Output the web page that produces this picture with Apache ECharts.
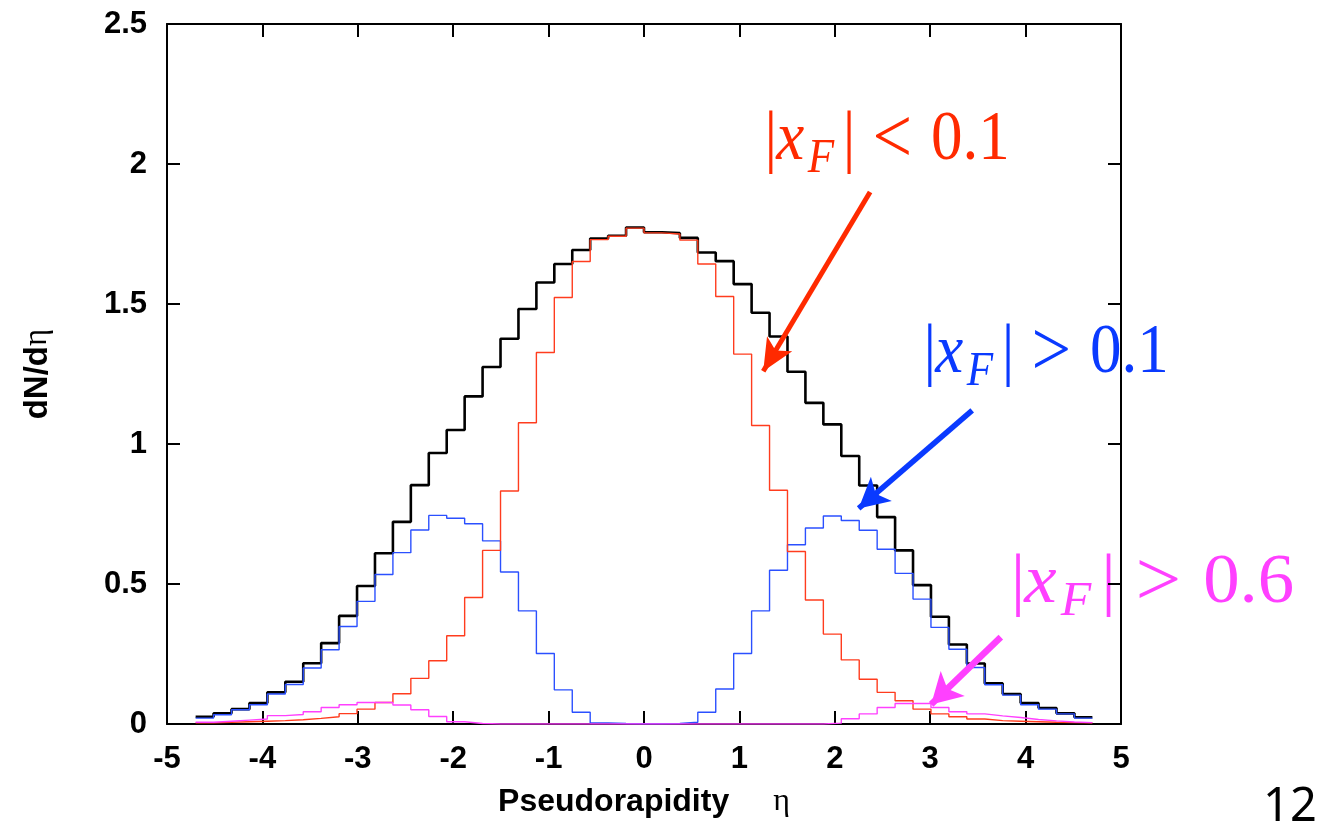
<!DOCTYPE html>
<html>
<head>
<meta charset="utf-8">
<script src="https://cdn.jsdelivr.net/npm/echarts@6/dist/echarts.min.js"></script>
<style>
  html, body { margin: 0; padding: 0; background: #fff; }
  #chart { width: 1320px; height: 825px; }
</style>
</head>
<body>
<div id="chart"></div>
<script>
// histogram binning: 50 bins from -4.7 to 4.7
const binLo = -4.7
const binWidth = 0.188

// all particles
const totalVals = [
  0.026, 0.038, 0.053, 0.075, 0.113, 0.151, 0.217, 0.289, 0.386, 0.493,
  0.610, 0.722, 0.853, 0.968, 1.050, 1.170, 1.275, 1.376, 1.482, 1.577,
  1.643, 1.693, 1.734, 1.744, 1.773, 1.756, 1.753, 1.736, 1.684, 1.653,
  1.571, 1.469, 1.384, 1.258, 1.147, 1.070, 0.957, 0.852, 0.739, 0.620,
  0.496, 0.383, 0.284, 0.216, 0.145, 0.107, 0.075, 0.057, 0.038, 0.024
]
// |xF| < 0.1
const lowXF = [
  0.004, 0.006, 0.008, 0.010, 0.012, 0.015, 0.020, 0.026, 0.037, 0.053,
  0.077, 0.108, 0.163, 0.226, 0.315, 0.452, 0.620, 0.832, 1.076, 1.327,
  1.523, 1.652, 1.730, 1.742, 1.771, 1.754, 1.750, 1.728, 1.643, 1.527,
  1.321, 1.066, 0.835, 0.616, 0.443, 0.321, 0.229, 0.160, 0.113, 0.083,
  0.053, 0.036, 0.026, 0.018, 0.012, 0.010, 0.008, 0.006, 0.005, 0.004
]
// |xF| > 0.1
const highXF = [
  0.021, 0.033, 0.051, 0.069, 0.107, 0.141, 0.200, 0.265, 0.348, 0.438,
  0.534, 0.612, 0.693, 0.745, 0.735, 0.715, 0.654, 0.543, 0.404, 0.252,
  0.122, 0.042, 0.004, 0.002, 0.001, 0.001, 0.002, 0.006, 0.042, 0.125,
  0.252, 0.404, 0.549, 0.640, 0.700, 0.743, 0.727, 0.692, 0.624, 0.538,
  0.446, 0.345, 0.267, 0.202, 0.140, 0.103, 0.069, 0.053, 0.036, 0.021
]
// |xF| > 0.6
const veryHighXF = [
  0.006, 0.010, 0.014, 0.018, 0.030, 0.034, 0.044, 0.059, 0.069, 0.077,
  0.077, 0.068, 0.051, 0.027, 0.008, 0.002, 0.000, 0.000, 0.000, 0.000,
  0.000, 0.000, 0.000, 0.000, 0.000, 0.000, 0.000, 0.000, 0.000, 0.000,
  0.000, 0.000, 0.000, 0.000, 0.000, 0.003, 0.019, 0.036, 0.059, 0.073,
  0.073, 0.059, 0.044, 0.036, 0.029, 0.023, 0.016, 0.011, 0.007, 0.005
]

const xTicks = { min: -5, max: 5, step: 1 }
const yTicks = { min: 0, max: 2.5, step: 0.5 }

// arrows [from, to] in data coordinates
const redArrow = [[2.37, 1.90], [1.25, 1.26]]
const blueArrow = [[3.44, 1.12], [2.25, 0.77]]
const pinkArrow = [[3.74, 0.31], [3.01, 0.07]]

const RED = '#ff2a00'
const BLUE = '#0a3aff'
const PINK = '#ff40ff'

function stepPoints(vals) {
    const pts = vals.map((v, i) => [binLo + i * binWidth, v])
    pts.push([binLo + vals.length * binWidth, vals[vals.length - 1]])
    return pts
}

function arrow(pair, color, width, head) {
    return {
        silent: true,
        symbol: ['none', 'arrow'],
        symbolSize: head,
        label: { show: false },
        lineStyle: { color, width, type: 'solid' },
        emphasis: { disabled: true },
        animation: false,
        data: [[{ coord: pair[0] }, { coord: pair[1] }]]
    }
}

// |x_F| op val, drawn from pieces so the subscript can sit lower
function mathLabel(x0, yc, color, op, val, sx) {
    const base = { fontFamily: 'Liberation Serif', fontSize: 70, fill: color, verticalAlign: 'middle' }
    return {
        type: 'group', x: x0, y: yc, scaleX: sx, silent: true,
        children: [
            { type: 'text', x: -5, y: 0, style: { ...base, text: '|' } },
            { type: 'text', x: 8, y: 0, style: { ...base, text: 'x', fontStyle: 'italic' } },
            { type: 'text', x: 43, y: 18, style: { ...base, fontSize: 48, text: 'F', fontStyle: 'italic' } },
            { type: 'text', x: 82, y: 0, style: { ...base, text: '|' } },
            { type: 'text', x: 115, y: 1, style: { ...base, fontSize: 78, text: op } },
            { type: 'text', x: 180, y: 0, style: { ...base, text: val } }
        ]
    }
}

const chart = echarts.init(document.getElementById('chart'))

const tickLabel = { fontSize: 31, fontWeight: 'bold', fontFamily: 'Liberation Sans', color: '#000' }
const frameLine = { show: true, onZero: false, lineStyle: { color: '#000', width: 2 } }
const frameTick = { show: true, inside: true, length: 13, lineStyle: { color: '#000', width: 2 } }

const option = {
    backgroundColor: '#fff',
    animation: false,
    grid: { left: 167, right: 199, top: 24, bottom: 101, containLabel: false, outerBoundsMode: 'none' },
    xAxis: [
        {
            type: 'value', min: xTicks.min, max: xTicks.max, interval: xTicks.step, position: 'bottom',
            axisLine: frameLine, axisTick: frameTick, splitLine: { show: false },
            axisLabel: { ...tickLabel, margin: 20, showMinLabel: true, showMaxLabel: true },
            name: '{b|Pseudorapidity}{e|η}',
            nameLocation: 'middle',
            nameGap: 62,
            nameTextStyle: {
                rich: {
                    b: { fontSize: 32, fontWeight: 'bold', fontFamily: 'Liberation Sans', color: '#000' },
                    e: { fontSize: 32, fontFamily: 'Liberation Serif', color: '#000', padding: [0, 0, 0, 44] }
                }
            }
        },
        {
            type: 'value', min: xTicks.min, max: xTicks.max, interval: xTicks.step, position: 'top',
            axisLine: frameLine, axisTick: frameTick, splitLine: { show: false }, axisLabel: { show: false }
        }
    ],
    yAxis: [
        {
            type: 'value', min: yTicks.min, max: yTicks.max, interval: yTicks.step, position: 'left',
            axisLine: frameLine, axisTick: frameTick, splitLine: { show: false },
            axisLabel: { ...tickLabel, margin: 20, showMinLabel: true, showMaxLabel: true },
            name: '{b|dN/d}{e|η}',
            nameLocation: 'middle',
            nameRotate: 90,
            nameGap: 113,
            nameTextStyle: {
                rich: {
                    b: { fontSize: 33, fontWeight: 'bold', fontFamily: 'Liberation Sans', color: '#000' },
                    e: { fontSize: 33, fontFamily: 'Liberation Serif', color: '#000' }
                }
            }
        },
        {
            type: 'value', min: yTicks.min, max: yTicks.max, interval: yTicks.step, position: 'right',
            axisLine: frameLine, axisTick: frameTick, splitLine: { show: false }, axisLabel: { show: false }
        }
    ],
    series: [
        {
            name: 'all', type: 'line', step: 'end', data: stepPoints(totalVals),
            symbol: 'none', silent: true, z: 2,
            lineStyle: { color: '#000', width: 2.6 }
        },
        {
            name: '|xF|>0.1', type: 'line', step: 'end', data: stepPoints(highXF),
            symbol: 'none', silent: true, z: 3,
            lineStyle: { color: '#2b50ff', width: 1.4 },
            markLine: arrow(blueArrow, BLUE, 5.5, [24, 30])
        },
        {
            name: '|xF|<0.1', type: 'line', step: 'end', data: stepPoints(lowXF),
            symbol: 'none', silent: true, z: 4,
            lineStyle: { color: '#ff3c1e', width: 1.4 },
            markLine: arrow(redArrow, RED, 5, [22, 32])
        },
        {
            name: '|xF|>0.6', type: 'line', step: 'end', data: stepPoints(veryHighXF),
            symbol: 'none', silent: true, z: 5,
            lineStyle: { color: PINK, width: 1.4 },
            markLine: arrow(pinkArrow, PINK, 6.5, [26, 30])
        }
    ],
    graphic: [
        mathLabel(769, 141, RED, '<', '0.1', 0.9),
        mathLabel(928, 354, BLUE, '>', '0.1', 0.9),
        mathLabel(1016, 584, PINK, '>', '0.6', 1.04),
        {
            type: 'text', left: 1263, top: 784, silent: true,
            style: { text: '12', fontSize: 47, fontFamily: 'Noto Sans', fill: '#000' }
        }
    ]
}

chart.setOption(option)
window.addEventListener('resize', () => chart.resize())
</script>
</body>
</html>
